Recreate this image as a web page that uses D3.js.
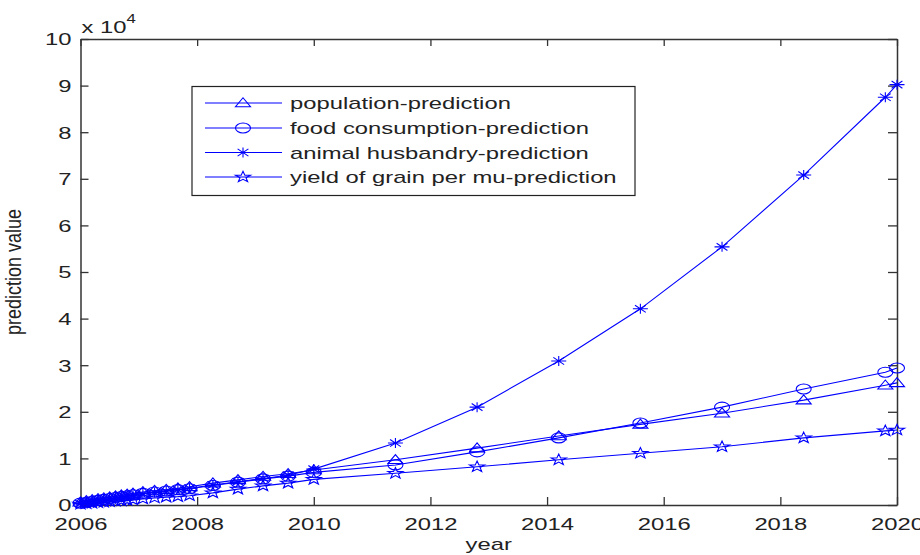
<!DOCTYPE html>
<html><head><meta charset="utf-8">
<script src="https://cdn.jsdelivr.net/npm/d3@7"></script>
<style>
html,body{margin:0;padding:0;background:#fff;}
svg{display:block;}
text{font-family:"Liberation Sans",Arial,Helvetica,sans-serif;fill:#222;}
</style></head>
<body>
<svg id="chart" width="920" height="555"></svg>
<script>
// ---- data (values in raw units; axis shows x 10^4) ----
const years = [2006.0, 2006.1, 2006.2, 2006.3, 2006.4, 2006.5, 2006.6, 2006.7, 2006.8, 2006.9,
  2007.07, 2007.27, 2007.47, 2007.67, 2007.87, 2008.27, 2008.7, 2009.13, 2009.56, 2010.0,
  2011.4, 2012.8, 2014.2, 2015.6, 2017.0, 2018.4, 2019.8, 2020.0];
const population = [600, 900, 1100, 1300, 1500, 1700, 1900, 2100, 2300, 2500,
  2800, 3100, 3300, 3600, 3900, 4700, 5400, 6100, 6700, 7500,
  9700, 12200, 14800, 17300, 19700, 22500, 25700, 26200];
const foodConsumption = [400, 600, 800, 1000, 1200, 1400, 1600, 1800, 2000, 2200,
  2500, 2800, 3000, 3300, 3500, 4200, 4900, 5600, 6200, 7000,
  8600, 11400, 14400, 17600, 21000, 24900, 28500, 29400];
const animalHusbandry = [300, 500, 700, 900, 1100, 1300, 1500, 1700, 1900, 2100,
  2400, 2700, 3000, 3300, 3600, 4300, 5000, 5700, 6400, 7700,
  13300, 21000, 30900, 42100, 55400, 70800, 87500, 90200];
const yieldPerMu = [200, 300, 400, 500, 600, 700, 800, 900, 1000, 1100,
  1300, 1500, 1700, 1800, 2000, 2600, 3400, 4100, 4700, 5500,
  6800, 8200, 9700, 11100, 12500, 14400, 15900, 16100];
const seriesNames = ["population-prediction", "food consumption-prediction",
  "animal husbandry-prediction", "yield of grain per mu-prediction"];
const markerTypes = ["triangle", "circle", "asterisk", "pentagram"];
const xTickValues = [2006, 2008, 2010, 2012, 2014, 2016, 2018, 2020];
const yTickValues = [0, 10000, 20000, 30000, 40000, 50000, 60000, 70000, 80000, 90000, 100000];
const xLabel = "year";
const yLabel = "prediction value";

// ---- layout ----
const L = 80.5, R = 897, T = 39, B = 505;
const SX = 1.4;          // horizontal stretch of the original picture
const FS = 17;
const BLUE = "#0000ff";
const AX = "#333";

const svg = d3.select("#chart");
svg.append("rect").attr("width", 920).attr("height", 555).attr("fill", "#fff");

const x = d3.scaleLinear().domain([2006, 2020]).range([L, R]);
const y = d3.scaleLinear().domain([0, 100000]).range([B, T]);

// plot background
svg.append("rect").attr("x", L).attr("y", T).attr("width", R - L).attr("height", B - T).attr("fill", "#fff");

function styleAxis(g) {
  g.selectAll("path.domain").attr("stroke", AX).attr("stroke-width", 1.5);
  g.selectAll(".tick line").attr("stroke", AX).attr("stroke-width", 1.3);
}

// bottom
const gB = svg.append("g").attr("transform", `translate(0,${B})`)
  .call(d3.axisBottom(x).tickValues(xTickValues).tickSizeInner(-8).tickSizeOuter(0).tickFormat(d3.format("d")));
styleAxis(gB);
gB.selectAll(".tick text").attr("y", 25).attr("dy", 0).attr("font-size", FS)
  .attr("fill", "#222").attr("font-family", null)
  .attr("transform", `scale(${SX},1)`);
// top
const gT = svg.append("g").attr("transform", `translate(0,${T})`)
  .call(d3.axisTop(x).tickValues(xTickValues).tickSizeInner(-7).tickSizeOuter(0).tickFormat(""));
styleAxis(gT);
// left
const gL = svg.append("g").attr("transform", `translate(${L},0)`)
  .call(d3.axisLeft(y).tickValues(yTickValues).tickSizeInner(-8).tickSizeOuter(0).tickFormat(d => d3.format("d")(d / 10000)));
styleAxis(gL);
gL.selectAll(".tick text").attr("x", -9 / SX).attr("dy", "0.35em").attr("font-size", FS)
  .attr("fill", "#222").attr("font-family", null)
  .attr("transform", `scale(${SX},1)`);
// right
const gR = svg.append("g").attr("transform", `translate(${R},0)`)
  .call(d3.axisRight(y).tickValues(yTickValues).tickSizeInner(-9).tickSizeOuter(0).tickFormat(""));
styleAxis(gR);

// exponent label
const ex = svg.append("text").attr("transform", `translate(${L + 1},33) scale(${SX},1)`).attr("font-size", FS);
ex.append("tspan").text("x 10");
ex.append("tspan").attr("dy", -10).attr("font-size", 12).text("4");

// axis labels
svg.append("text").attr("transform", `translate(${(L + R) / 2},550) scale(${SX},1)`)
  .attr("text-anchor", "middle").attr("font-size", FS).text(xLabel);
svg.append("text").attr("transform", `translate(21,${(T + B) / 2}) scale(${SX * 0.85},1) rotate(-90)`)
  .attr("text-anchor", "middle").attr("font-size", 18).text(yLabel);

// ---- markers ----
const MRX = 7.5, MRY = 5;
function markerPath(type, cx, cy) {
  const rx = MRX, ry = MRY;
  if (type === "triangle") {
    return `M${cx},${cy - ry * 1.05}L${cx + rx},${cy + ry * 0.75}L${cx - rx},${cy + ry * 0.75}Z`;
  }
  if (type === "circle") {
    return `M${cx - rx},${cy}A${rx},${ry} 0 1,0 ${cx + rx},${cy}A${rx},${ry} 0 1,0 ${cx - rx},${cy}Z`;
  }
  if (type === "asterisk") {
    const d = 0.72;
    return `M${cx - rx},${cy}L${cx + rx},${cy}M${cx},${cy - ry}L${cx},${cy + ry}` +
      `M${cx - rx * d},${cy - ry * d}L${cx + rx * d},${cy + ry * d}M${cx - rx * d},${cy + ry * d}L${cx + rx * d},${cy - ry * d}`;
  }
  // pentagram
  let p = "";
  for (let i = 0; i < 10; i++) {
    const a = -Math.PI / 2 + i * Math.PI / 5;
    const r = i % 2 === 0 ? 1.05 : 0.42;
    const px = cx + Math.cos(a) * r * rx, py = cy + Math.sin(a) * r * ry * 1.1;
    p += (i === 0 ? "M" : "L") + px.toFixed(2) + "," + py.toFixed(2);
  }
  return p + "Z";
}

const allSeries = [population, foodConsumption, animalHusbandry, yieldPerMu];
const line = d3.line().x((d, i) => x(years[i])).y(d => y(d));

allSeries.forEach((vals, si) => {
  const g = svg.append("g");
  g.append("path").attr("d", line(vals)).attr("fill", "none").attr("stroke", BLUE).attr("stroke-width", 1.1);
  g.selectAll("path.m").data(vals).enter().append("path").attr("class", "m")
    .attr("d", (d, i) => markerPath(markerTypes[si], x(years[i]), y(d)))
    .attr("fill", "none").attr("stroke", BLUE).attr("stroke-width", 1.1);
});

// ---- legend ----
const lg = svg.append("g");
lg.append("rect").attr("x", 192).attr("y", 86.5).attr("width", 443).attr("height", 109)
  .attr("fill", "#fff").attr("stroke", "#222").attr("stroke-width", 1.2);
const rowY = [103, 128, 152.5, 177];
seriesNames.forEach((name, i) => {
  const yy = rowY[i];
  lg.append("line").attr("x1", 205).attr("x2", 282).attr("y1", yy).attr("y2", yy)
    .attr("stroke", BLUE).attr("stroke-width", 1.1);
  lg.append("path").attr("d", markerPath(markerTypes[i], 243, yy))
    .attr("fill", "none").attr("stroke", BLUE).attr("stroke-width", 1.1);
  lg.append("text").attr("transform", `translate(290,${yy + 6}) scale(${SX},1)`)
    .attr("font-size", FS).text(name);
});
</script>
</body></html>
